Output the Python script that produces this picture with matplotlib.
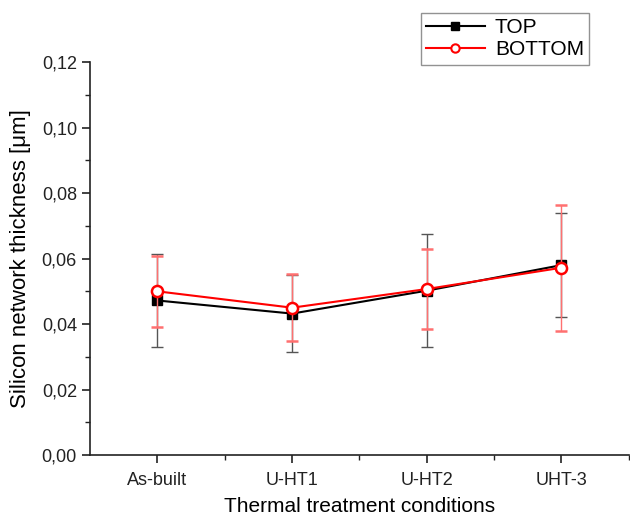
import matplotlib
matplotlib.use("Agg")
import matplotlib.pyplot as plt
from matplotlib.ticker import MultipleLocator, FuncFormatter, FixedLocator
from matplotlib.lines import Line2D

plt.rcParams['font.family'] = ['Liberation Sans', 'DejaVu Sans']

categories = ["As-built", "U-HT1", "U-HT2", "UHT-3"]
top_vals = [0.0472, 0.0432, 0.0502, 0.0580]
top_err = [0.0143, 0.0118, 0.0172, 0.0158]
bottom_vals = [0.0500, 0.0450, 0.0507, 0.0572]
bottom_err = [0.0108, 0.0103, 0.0123, 0.0192]

fig = plt.figure(figsize=(6.30, 5.18), dpi=100)
ax = fig.add_axes([0.143, 0.1216, 0.855, 0.7584])

x = list(range(1, len(categories) + 1))

ax.errorbar(x, top_vals, yerr=top_err, color='black', marker='s', markersize=7.5,
            linewidth=1.5, ecolor='#555555', elinewidth=1.0, capsize=4, capthick=1.0,
            zorder=3)
ax.errorbar(x, bottom_vals, yerr=bottom_err, color='#ff0000', marker='o', markersize=8,
            markerfacecolor='white', markeredgewidth=1.8, linewidth=1.5,
            ecolor='#ff7070', elinewidth=1.0, capsize=4, capthick=1.0,
            zorder=4)

ax.set_xlim(0.5, 4.5)
ax.set_ylim(0, 0.12)
ax.set_xticks(x)
ax.set_xticklabels(categories)
ax.xaxis.set_minor_locator(FixedLocator([1.5, 2.5, 3.5, 4.5]))
ax.yaxis.set_major_locator(MultipleLocator(0.02))
ax.yaxis.set_minor_locator(MultipleLocator(0.01))
ax.yaxis.set_major_formatter(FuncFormatter(lambda v, p: f"{v:.2f}".replace('.', ',')))

for s in ['top', 'right']:
    ax.spines[s].set_visible(False)
for s in ['left', 'bottom']:
    ax.spines[s].set_linewidth(1.2)
    ax.spines[s].set_color('#222222')

ax.tick_params(axis='both', which='major', direction='out', length=6, width=1.2,
               labelsize=13, colors='#222222')
ax.tick_params(axis='both', which='minor', direction='out', length=3.5, width=1.0,
               colors='#222222')
ax.tick_params(axis='x', pad=6)

ax.set_xlabel("Thermal treatment conditions", fontsize=15, labelpad=6)
ax.set_ylabel("Silicon network thickness [\u03bcm]", fontsize=16, labelpad=8)

handles = [
    Line2D([], [], color='black', marker='s', markersize=6, linewidth=1.5),
    Line2D([], [], color='#ff0000', marker='o', markersize=6, markerfacecolor='white',
           markeredgewidth=1.5, linewidth=1.5),
]
leg = fig.legend(handles, ['TOP', 'BOTTOM'], loc='upper left',
                 bbox_to_anchor=(421/630, 1 - 13/518),
                 fontsize=15, frameon=True, fancybox=False, handlelength=2.8,
                 borderpad=0.25, labelspacing=0.15, handletextpad=0.5,
                 borderaxespad=0)
leg.get_frame().set_edgecolor('#777777')
leg.get_frame().set_linewidth(1.0)

fig.savefig("out.png", dpi=100)
